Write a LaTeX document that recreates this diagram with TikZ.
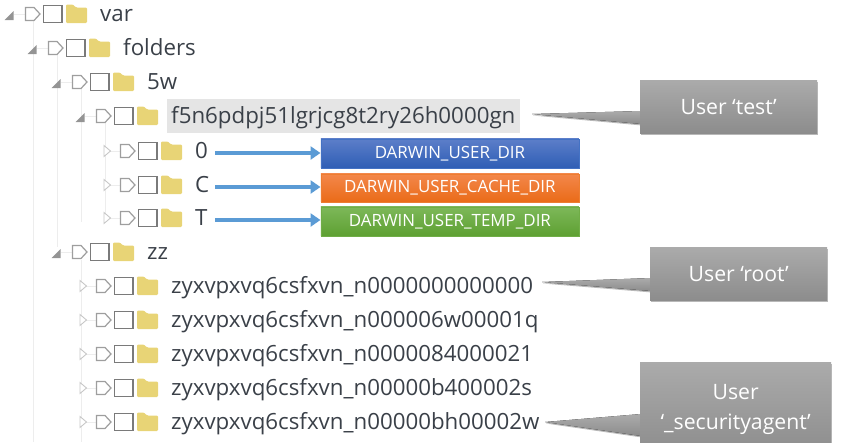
\documentclass[tikz,border=0pt]{standalone}
\usepackage{fontspec}
\setmainfont{Open Sans}
\usetikzlibrary{shadows,arrows.meta}
\definecolor{guide}{HTML}{EDEDED}
\definecolor{folderc}{HTML}{E8D476}
\definecolor{treetext}{HTML}{3A4048}
\definecolor{arrowc}{HTML}{5B9BD5}
\definecolor{blueT}{HTML}{5C7EC9}
\definecolor{blueB}{HTML}{2F5EB5}
\definecolor{blueE}{HTML}{4472C4}
\definecolor{orangeT}{HTML}{F3874B}
\definecolor{orangeB}{HTML}{EA6B18}
\definecolor{orangeE}{HTML}{ED7D31}
\definecolor{greenT}{HTML}{7DB859}
\definecolor{greenB}{HTML}{5EA032}
\definecolor{greenE}{HTML}{70AD47}
\tikzset{
  guide line/.style={draw=guide,line width=1pt},
  filetext/.style={anchor=base west,inner sep=0pt,font=\fontsize{22.3}{26}\selectfont,text=treetext},
  openTri/.style={draw=black!22,fill=white,line width=0.9pt,line join=miter},
  solidTri/.style={draw=none,fill=black!42},
  pent/.style={draw=black!38,fill=white,line width=1.2pt,line join=miter},
  checkb/.style={draw=black!52,fill=white,line width=1.3pt},
  folderi/.style={fill=folderc,draw=none,rounded corners=1.2pt},
  dirbox/.style={anchor=north west,minimum width=258pt,inner sep=0pt,line width=0.8pt,text=white,font=\fontsize{16.9}{20}\selectfont},
  conn/.style={draw=arrowc,line width=4pt,-{Triangle[length=10pt,width=13pt]},shorten <=0pt},
  callout/.style={top color=black!33,bottom color=black!45,draw=none,drop shadow={shadow xshift=1pt,shadow yshift=-1.5pt,opacity=.28,fill=black}},
  calloutbody/.style={anchor=north west,inner sep=0pt,align=center,text=white,font=\fontsize{21.2}{30}\selectfont,top color=black!33,bottom color=black!45,drop shadow={shadow xshift=1pt,shadow yshift=-1.5pt,opacity=.28,fill=black}},
}
% #1 x offset, #2 y centre, #3 triangle style, #4 node name, #5 text, #6 text x
\newcommand{\treerow}[6]{%
  \begin{scope}[shift={(#1,#2)}]
    \draw[guide line] (14,0) -- (25,0);
    \ifx#3s
      \fill[solidTri] (4.5,6) -- (13.5,6) -- (13.5,-3) -- cycle;
    \else
      \draw[openTri] (9,-5.5) -- (15.5,0) -- (9,5.5) -- cycle;
    \fi
    \draw[pent] (25.5,-6.5) -- (34,-6.5) -- (40,0) -- (34,6.5) -- (25.5,6.5) -- cycle;
    \draw[checkb] (43.5,-8.5) rectangle (62,8.5);
    \fill[folderi] (66,9) -- (66,-9.5) -- (73,-9.5) -- (76,-6.5) -- (87,-6.5) -- (87,9) -- cycle;
  \end{scope}
  \node[filetext] (#4) at (#6,#2+7) {#5};
}
\begin{document}
\begin{tikzpicture}[x=1pt,y=-1pt]
\useasboundingbox (0,0) rectangle (841,442);
\begin{scope}
\clip (0,0) rectangle (841,442);
% guides
\draw[guide line] (33,20) -- (33,442);
\draw[guide line] (57,55) -- (57,247);
\draw[guide line] (81,89) -- (81,222);
\draw[guide line] (81,260) -- (81,442);
\draw[guide line] (105,123) -- (105,222);
% highlight
\fill[black!10] (167,99) rectangle (520,133);
% rows
\treerow{0}{14}{s}{rvar}{var}{100}
\treerow{23}{48}{s}{rfolders}{folders}{123}
\treerow{47}{82}{s}{rfivew}{5w}{147}
\treerow{71}{116}{s}{rtest}{f5n6pdpj51lgrjcg8t2ry26h0000gn}{171}
\treerow{95}{151}{o}{rzero}{0}{195}
\treerow{95}{185}{o}{rc}{C}{195}
\treerow{95}{218}{o}{rt}{T}{195}
\treerow{47}{252}{s}{rzz}{zz}{147}
\treerow{71}{286}{o}{rroot}{zyxvpxvq6csfxvn\_n0000000000000}{171}
\treerow{71}{320}{o}{rb}{zyxvpxvq6csfxvn\_n000006w00001q}{171}
\treerow{71}{354}{o}{rd}{zyxvpxvq6csfxvn\_n0000084000021}{171}
\treerow{71}{388}{o}{re}{zyxvpxvq6csfxvn\_n00000b400002s}{171}
\treerow{71}{422}{o}{rsec}{zyxvpxvq6csfxvn\_n00000bh00002w}{171}
% dir boxes
\node[dirbox,minimum height=29pt,draw=blueE,top color=blueT,bottom color=blueB] (bdir) at (320.5,138.5) {DARWIN\_USER\_DIR};
\node[dirbox,minimum height=28pt,draw=orangeE,top color=orangeT,bottom color=orangeB] (bcache) at (320.5,173.5) {DARWIN\_USER\_CACHE\_DIR};
\node[dirbox,minimum height=29pt,draw=greenE,top color=greenT,bottom color=greenB] (btemp) at (320.5,206.5) {DARWIN\_USER\_TEMP\_DIR};
% connectors
\coordinate (azero) at (215,153);
\coordinate (ac) at (215,187);
\coordinate (at) at (215,220);
\draw[conn] (azero) -- (azero-|bdir.west);
\draw[conn] (ac) -- (ac-|bcache.west);
\draw[conn] (at) -- (at-|btemp.west);
% callouts
\coordinate (ttest) at (532,114);
\coordinate (troot) at (542,282);
\coordinate (tsec) at (545,422);
\fill[callout] (ttest) -- (641,111) -- (641,124) -- cycle;
\node[calloutbody,minimum width=177pt,minimum height=53pt] (ctest) at (640,80) {User ‘test’};
\fill[callout] (troot) -- (651,278) -- (651,291) -- cycle;
\node[calloutbody,minimum width=177pt,minimum height=53pt] (croot) at (650,247) {User ‘root’};
\fill[callout] (tsec) -- (641,414) -- (641,436) -- cycle;
\node[calloutbody,minimum width=191pt,minimum height=94pt] (csec) at (640,362) {User\\‘\_securityagent’};
\end{scope}
\end{tikzpicture}
\end{document}
